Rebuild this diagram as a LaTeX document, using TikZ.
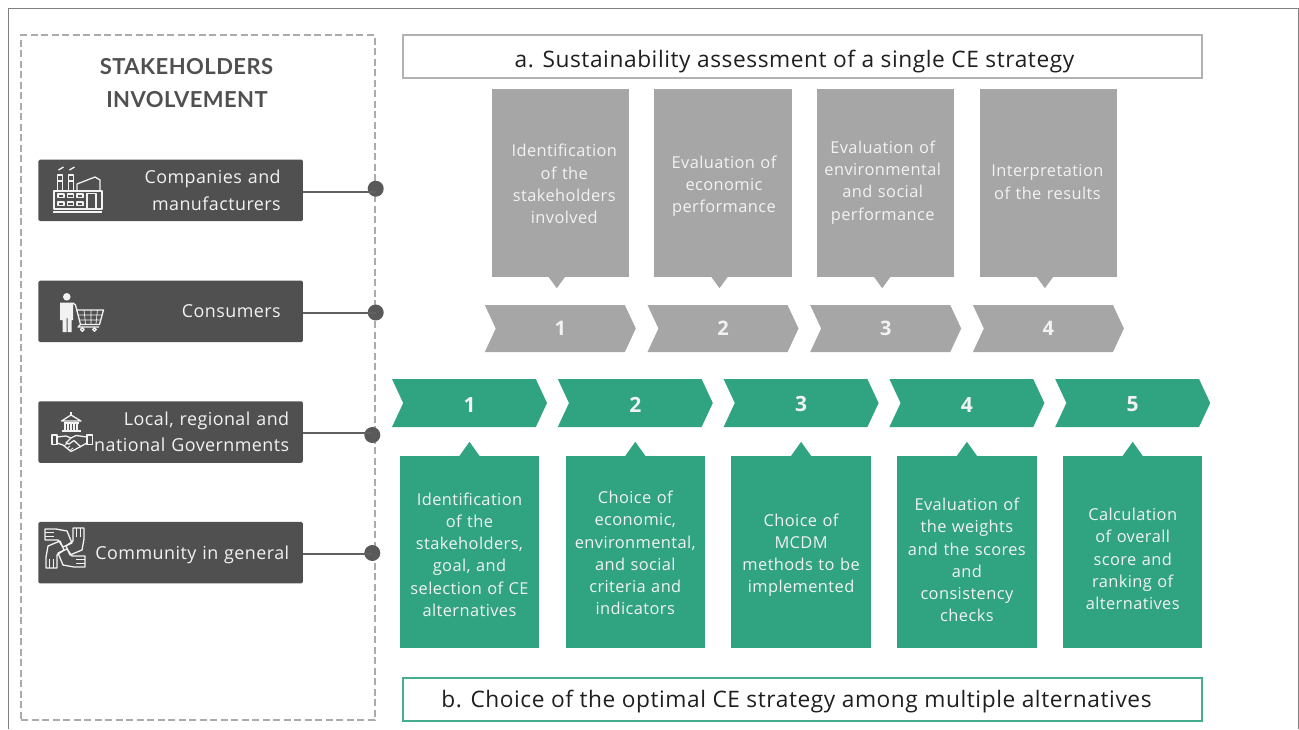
\documentclass[tikz,border=0pt]{standalone}
\usepackage{fontspec}
\setmainfont{Open Sans}[LetterSpace=2.5]
\newfontfamily\headfont{Lato}[LetterSpace=2]
\usepackage{xcolor}
\usepackage{tikz}
\usetikzlibrary{shapes.symbols}
\definecolor{stepgreen}{HTML}{30A380}
\definecolor{stepgray}{HTML}{A6A6A6}
\definecolor{darkbox}{HTML}{505050}
\definecolor{softwhite}{HTML}{F2F2F2}
\tikzstyle{panel} = [rectangle, minimum width=353.5pt, minimum height=685pt, draw=black!33, line width=2pt, dash pattern=on 7pt off 3.5pt]
\tikzstyle{banner} = [rectangle, minimum width=799pt, minimum height=43pt, line width=2.5pt]
\tikzstyle{bannertext} = [inner sep=0pt, text=black!88, font=\fontsize{22.7}{26}\selectfont]
\tikzstyle{stakeholder} = [rectangle, rounded corners=1.5pt, minimum width=264.5pt, minimum height=61.5pt, inner sep=0pt, fill=darkbox, text=softwhite, align=right, font=\fontsize{17.9}{26.5}\selectfont]
\tikzstyle{dot} = [circle, minimum size=16pt, inner sep=0pt, fill=darkbox!95]
\tikzstyle{grayarrow} = [signal, signal to=east, signal from=west, signal pointer angle=130, minimum width=151pt, minimum height=47pt, inner sep=0pt, fill=stepgray, text=softwhite, font=\fontsize{20}{24}\selectfont\bfseries]
\tikzstyle{greenarrow} = [signal, signal to=east, signal from=west, signal pointer angle=130, minimum width=155pt, minimum height=48pt, inner sep=0pt, text height=18pt, fill=stepgreen, text=softwhite, font=\fontsize{21}{24}\selectfont\bfseries]
\tikzstyle{graybox} = [rectangle, minimum width=137.5pt, minimum height=188pt, inner sep=0pt, fill=stepgray]
\tikzstyle{greenbox} = [rectangle, minimum width=139.5pt, minimum height=192pt, inner sep=0pt, fill=stepgreen]
\tikzstyle{boxtext} = [inner sep=0pt, text width=134pt, align=center, text=softwhite, font=\fontsize{16.4}{22.2}\selectfont]
\tikzstyle{connector} = [line width=2pt, draw=darkbox!90]
\tikzstyle{icon} = [draw=softwhite, line width=1.3pt, line join=round]
\tikzset{
  hand/.pic={
    \draw [icon] (-20,-19) -- (-9,-19) -- (2,-17) -- (7,-5) -- (-2,-1) -- (-7,-8) -- (-20,-8) -- cycle;
    \draw [icon] (-20,-15.3) -- (-11,-15.3) (-20,-11.6) -- (-11,-11.6);
  }
}

\begin{document}
\begin{tikzpicture}[x=1pt, y=-1pt, node distance=165.8pt]
	\useasboundingbox (0,0) rectangle (1299,729);
	\draw [draw=black!50, line width=1pt] (8,729) -- (8,8) -- (1298,8) -- (1298,729);

	% left panel
	\node (Panel) [panel] at (198.2,377.5) {};
	\node (Heading1) [text=darkbox, font=\headfont\fontsize{22}{26}\selectfont\bfseries] at (186.5,67) {STAKEHOLDERS};
	\node (Heading2) [text=darkbox, font=\headfont\fontsize{22}{26}\selectfont\bfseries] at (187,100) {INVOLVEMENT};

	\node (Companies) [stakeholder, text width=220pt] at (170.7,190.3) {Companies and\\manufacturers};
	\node (Consumers) [stakeholder, text width=220pt] at (170.7,311.3) {Consumers};
	\node (Governments) [stakeholder, text width=237pt] at (170.7,432) {Local, regional and\\national Governments};
	\node (Community) [stakeholder, text width=237pt, text depth=0pt] at (170.7,552.7) {Community in general};

	\node (Dot1) [dot] at (375.7,188.7) {};
	\node (Dot2) [dot] at (375.7,312.5) {};
	\node (Dot3) [dot] at (372.3,435) {};
	\node (Dot4) [dot] at (372.3,553) {};
	\draw [connector] ([yshift=-1.7pt]Companies.east) -- ([yshift=-3.3pt]Dot1.center);
	\draw [connector] ([yshift=-1.2pt]Consumers.east) -- (Dot2.center);
	\draw [connector] ([yshift=-1pt]Governments.east) -- ([yshift=2pt]Dot3.center);
	\draw [connector] ([yshift=-1pt]Community.east) -- ([yshift=-0.7pt]Dot4.center);

	% icons
	\draw [icon] (54,191) rectangle (102,209);
	\draw [icon] (53,212) -- (102,212);
	\draw [icon] (57.5,191) -- (57.5,175) -- (62.5,175) -- (62.5,191) (57.5,181) -- (62.5,181);
	\draw [icon] (68.5,191) -- (68.5,175) -- (73.5,175) -- (73.5,191) (68.5,181) -- (73.5,181);
	\draw [icon] (58.5,170) -- (63.5,167) (69.5,170) -- (74.5,167);
	\draw [icon] (77,191) -- (77,184) -- (95,177) -- (100,180) -- (100,191);
	\draw [icon] (58,194) rectangle (64,197.5) (67.5,194) rectangle (73.5,197.5) (77,194) rectangle (83,197.5);
	\draw [icon] (58,202) rectangle (64,205.5) (67.5,202) rectangle (73.5,205.5) (77,202) rectangle (83,205.5);
	\draw [icon] (87,193.5) rectangle (96,209);

	\fill [softwhite] (66.8,296.8) circle (3.8);
	\fill [softwhite] (60,302.5) -- (73,302.5) -- (73,320) -- (71.6,320) -- (71.6,332) -- (67.7,332) -- (67.7,318) -- (66.6,318) -- (66.6,332) -- (62.7,332) -- (62.7,320) -- (60,320) -- cycle;
	\draw [icon] (73,303) -- (75.5,305) -- (80.5,324.5) -- (99.5,324.5) -- (103.5,310) -- (77,310);
	\draw [icon, line width=0.7pt] (78,315) -- (102,315) (79.5,320) -- (100.5,320) (84,310) -- (85.5,324) (91,310) -- (91,324) (97.5,310) -- (96,324);
	\draw [icon] (80.5,324.5) -- (78,327) -- (99,327);
	\draw [icon] (82.3,329.5) circle (1.8) (94.5,329.5) circle (1.8);

	\draw [icon] (61.5,421) -- (71,415) -- (81,421) -- cycle;
	\draw [icon] (71,415) -- (71,411.5);
	\draw [icon] (62,431) -- (80.5,431) (63.5,423) -- (79,423) (65,423) -- (65,431) (68,423) -- (68,431) (71,423) -- (71,431) (74,423) -- (74,431) (77,423) -- (77,431);
	\draw [icon] (52,435) rectangle (57,444.5) (87,435) rectangle (92.5,444.5);
	\draw [icon] (57,437) -- (66,436) -- (71,438) -- (76,435.5) -- (87,437);
	\draw [icon] (57,443) -- (63,445) -- (71,451.5) -- (76,449) -- (87,443);
	\draw [icon] (71,438) -- (66,443) -- (69,444) -- (74,440.5) -- (81,447);
	\draw [icon, line width=0.8pt] (64,446) -- (67,443.5) (67,448.5) -- (70,446) (70,450.5) -- (73,448);

	\pic at (65,548) {hand};
	\pic [rotate=90] at (65,548) {hand};
	\pic [rotate=180] at (65,548) {hand};
	\pic [rotate=270] at (65,548) {hand};

	% top row
	\node (Assessment) [banner, draw=black!30] at (802.5,56.5) {};
	\node (AssessmentText) [bannertext] at (794.5,61.5) {a. Sustainability assessment of a single CE strategy};

	\node (GrayArrow1) [grayarrow] at (560.3,328.5) {1};
	\node (GrayArrow2) [grayarrow, node distance=162.7pt, right of=GrayArrow1] {2};
	\node (GrayArrow3) [grayarrow, node distance=162.7pt, right of=GrayArrow2] {3};
	\node (GrayArrow4) [grayarrow, node distance=162.7pt, right of=GrayArrow3] {4};

	\node (GrayBox1) [graybox, node distance=145.5pt, above of=GrayArrow1] {};
	\node (GrayBox2) [graybox, node distance=145.5pt, above of=GrayArrow2] {};
	\node (GrayBox3) [graybox, node distance=145.5pt, above of=GrayArrow3] {};
	\node (GrayBox4) [graybox, node distance=145.5pt, above of=GrayArrow4] {};

	\fill [stepgray] ([xshift=-11.5pt]GrayBox1.south) -- ++(8pt,-11pt) -- ++(8pt,11pt) -- cycle;
	\fill [stepgray] ([xshift=-11.5pt]GrayBox2.south) -- ++(8pt,-11pt) -- ++(8pt,11pt) -- cycle;
	\fill [stepgray] ([xshift=-11.5pt]GrayBox3.south) -- ++(8pt,-11pt) -- ++(8pt,11pt) -- cycle;
	\fill [stepgray] ([xshift=-11.5pt]GrayBox4.south) -- ++(8pt,-11pt) -- ++(8pt,11pt) -- cycle;

	\node (GrayText1) [boxtext, node distance=144.5pt, above of=GrayArrow1, xshift=4pt] {Identification\\of the\\stakeholders\\involved};
	\node (GrayText2) [boxtext, node distance=142.5pt, above of=GrayArrow2, xshift=1pt] {Evaluation of\\economic\\performance};
	\node (GrayText3) [boxtext, node distance=146pt, above of=GrayArrow3, xshift=-3pt] {Evaluation of\\environmental\\and social\\performance};
	\node (GrayText4) [boxtext, node distance=146.5pt, above of=GrayArrow4, xshift=-1pt] {Interpretation\\of the results};

	% bottom row
	\node (GreenArrow1) [greenarrow] at (469.5,403) {1};
	\node (GreenArrow2) [greenarrow, right of=GreenArrow1] {2};
	\node (GreenArrow3) [greenarrow, right of=GreenArrow2] {3};
	\node (GreenArrow4) [greenarrow, right of=GreenArrow3] {4};
	\node (GreenArrow5) [greenarrow, right of=GreenArrow4] {5};

	\node (GreenBox1) [greenbox, node distance=149pt, below of=GreenArrow1] {};
	\node (GreenBox2) [greenbox, node distance=149pt, below of=GreenArrow2] {};
	\node (GreenBox3) [greenbox, node distance=149pt, below of=GreenArrow3] {};
	\node (GreenBox4) [greenbox, node distance=149pt, below of=GreenArrow4] {};
	\node (GreenBox5) [greenbox, node distance=149pt, below of=GreenArrow5] {};

	\fill [stepgreen] ([xshift=-10pt]GreenBox1.north) -- ++(10pt,14pt) -- ++(10pt,-14pt) -- cycle;
	\fill [stepgreen] ([xshift=-10pt]GreenBox2.north) -- ++(10pt,14pt) -- ++(10pt,-14pt) -- cycle;
	\fill [stepgreen] ([xshift=-10pt]GreenBox3.north) -- ++(10pt,14pt) -- ++(10pt,-14pt) -- cycle;
	\fill [stepgreen] ([xshift=-10pt]GreenBox4.north) -- ++(10pt,14pt) -- ++(10pt,-14pt) -- cycle;
	\fill [stepgreen] ([xshift=-10pt]GreenBox5.north) -- ++(10pt,14pt) -- ++(10pt,-14pt) -- cycle;

	\node (GreenText1) [boxtext, node distance=151.5pt, below of=GreenArrow1] {Identification\\of the\\stakeholders,\\goal, and\\selection of CE\\alternatives};
	\node (GreenText2) [boxtext, node distance=150pt, below of=GreenArrow2] {Choice of\\economic,\\environmental,\\and social\\criteria and\\indicators};
	\node (GreenText3) [boxtext, node distance=152pt, below of=GreenArrow3] {Choice of\\MCDM\\methods to be\\implemented};
	\node (GreenText4) [boxtext, node distance=157pt, below of=GreenArrow4] {Evaluation of\\the weights\\and the scores\\and\\consistency\\checks};
	\node (GreenText5) [boxtext, node distance=156pt, below of=GreenArrow5] {Calculation\\of overall\\score and\\ranking of\\alternatives};

	\node (Choice) [banner, draw=stepgreen!90] at (802.5,699.5) {};
	\node (ChoiceText) [bannertext] at (796.5,701.5) {b. Choice of the optimal CE strategy among multiple alternatives};
\end{tikzpicture}
\end{document}
